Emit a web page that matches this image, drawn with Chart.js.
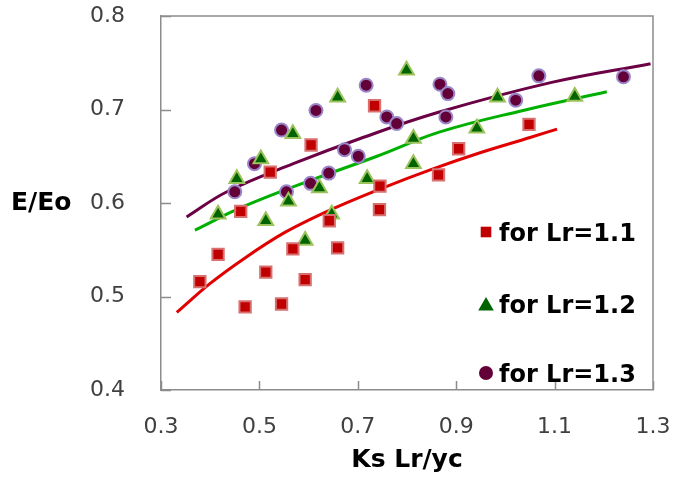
<!DOCTYPE html>
<html>
<head>
<meta charset="utf-8">
<script src="https://cdn.jsdelivr.net/npm/chart.js@4/dist/chart.umd.min.js"></script>
<style>
  html, body { margin: 0; padding: 0; background: #fff; }
  #wrap { width: 692px; height: 480px; }
</style>
</head>
<body>
<div id="wrap"><canvas id="chart" width="692" height="480"></canvas></div>
<script>
// measured points (Ks Lr/yc , E/Eo)
const lr11X = [0.379, 0.416, 0.471, 0.462, 0.513, 0.522, 0.545, 0.568, 0.593, 0.605, 0.642, 0.659, 0.734, 0.745, 0.744, 0.864, 0.905, 1.048];
const lr11Y = [0.516, 0.545, 0.489, 0.591, 0.526, 0.633, 0.492, 0.551, 0.518, 0.662, 0.581, 0.552, 0.704, 0.618, 0.593, 0.630, 0.658, 0.684];

const lr12X = [0.416, 0.454, 0.503, 0.513, 0.559, 0.568, 0.593, 0.622, 0.647, 0.659, 0.719, 0.799, 0.813, 0.813, 0.942, 0.984, 1.141];
const lr12Y = [0.588, 0.626, 0.647, 0.581, 0.602, 0.674, 0.560, 0.616, 0.588, 0.713, 0.626, 0.742, 0.669, 0.642, 0.680, 0.713, 0.714];

const lr13X = [0.450, 0.490, 0.545, 0.555, 0.604, 0.615, 0.641, 0.673, 0.701, 0.717, 0.759, 0.779, 0.867, 0.883, 0.879, 1.021, 1.068, 1.240];
const lr13Y = [0.612, 0.642, 0.678, 0.612, 0.621, 0.699, 0.632, 0.657, 0.650, 0.726, 0.692, 0.685, 0.727, 0.717, 0.692, 0.710, 0.736, 0.735];

// trend curves
const fit11X = [0.332, 0.40, 0.47, 0.55, 0.65, 0.75, 0.85, 0.95, 1.05, 1.105];
const fit11Y = [0.483, 0.514, 0.541, 0.568, 0.594, 0.616, 0.636, 0.654, 0.670, 0.679];
const fit12X = [0.369, 0.467, 0.603, 0.739, 0.867, 1.036, 1.206];
const fit12Y = [0.571, 0.596, 0.624, 0.650, 0.676, 0.699, 0.719];
const fit13X = [0.352, 0.434, 0.569, 0.705, 0.864, 1.094, 1.295];
const fit13Y = [0.585, 0.612, 0.642, 0.669, 0.697, 0.729, 0.749];

const xTicks = [0.3, 0.5, 0.7, 0.9, 1.1, 1.3];
const yTicks = [0.4, 0.5, 0.6, 0.7, 0.8];
const legendLabels = ['for Lr=1.1', 'for Lr=1.2', 'for Lr=1.3'];

const toPoints = (xs, ys) => xs.map((x, i) => ({ x: x, y: ys[i] }));

const markerStyles = [
  { pointStyle: 'rect', color: '#c00000', radius: 7.5 },
  { pointStyle: 'triangle', color: '#006400', radius: 9 },
  { pointStyle: 'circle', color: '#640038', radius: 7 }
];

// inner tick marks, top/right frame, y title and the legend
const chartExtras = {
  id: 'chartExtras',
  afterDraw(chart) {
    const { ctx, chartArea: a, scales: { x, y } } = chart;
    ctx.save();
    ctx.strokeStyle = '#8c8c8c';
    ctx.lineWidth = 1.5;
    ctx.beginPath();
    ctx.moveTo(a.left, a.top);
    ctx.lineTo(a.right, a.top);
    ctx.lineTo(a.right, a.bottom);
    xTicks.forEach(v => {
      const px = Math.round(x.getPixelForValue(v)) + 0.5;
      ctx.moveTo(px, a.bottom);
      ctx.lineTo(px, a.bottom - 9);
    });
    yTicks.forEach(v => {
      const py = Math.round(y.getPixelForValue(v)) + 0.5;
      ctx.moveTo(a.left, py);
      ctx.lineTo(a.left + 10, py);
    });
    ctx.stroke();

    // y axis title, horizontal
    ctx.fillStyle = '#000';
    ctx.font = "bold 25px 'DejaVu Sans'";
    ctx.textAlign = 'left';
    ctx.textBaseline = 'middle';
    ctx.fillText('E/Eo', 11, y.getPixelForValue(0.6));

    // legend inside the plot
    const rowsY = [232, 304, 373];
    ctx.font = "bold 24px 'DejaVu Sans'";
    ctx.textBaseline = 'alphabetic';
    legendLabels.forEach((label, i) => {
      const m = markerStyles[i];
      ctx.fillStyle = m.color;
      const dy = m.pointStyle === 'triangle' ? 2 : 0;
      Chart.helpers.drawPoint(ctx, { pointStyle: m.pointStyle, radius: m.radius, borderWidth: 0, rotation: 0 }, 486, rowsY[i] + dy);
      ctx.fillStyle = '#000';
      ctx.fillText(label, 499, rowsY[i] + 9);
    });
    ctx.restore();
  }
};

const ctx = document.getElementById('chart');

new Chart(ctx, {
  type: 'scatter',
  data: {
    datasets: [
      {
        label: legendLabels[0],
        data: toPoints(lr11X, lr11Y),
        pointStyle: 'rect',
        pointRadius: 8,
        backgroundColor: '#c00000',
        borderColor: '#d87070',
        borderWidth: 2,
        order: 1
      },
      {
        label: legendLabels[1],
        data: toPoints(lr12X, lr12Y),
        pointStyle: 'triangle',
        pointRadius: 8.5,
        backgroundColor: '#006400',
        borderColor: '#9cc25c',
        borderWidth: 2,
        order: 1
      },
      {
        label: legendLabels[2],
        data: toPoints(lr13X, lr13Y),
        pointStyle: 'circle',
        pointRadius: 6.5,
        backgroundColor: '#640038',
        borderColor: '#9a86c8',
        borderWidth: 2,
        order: 1
      },
      {
        label: 'fit 1.1',
        data: toPoints(fit11X, fit11Y),
        showLine: true,
        pointRadius: 0,
        borderColor: '#e00000',
        borderWidth: 3,
        cubicInterpolationMode: 'monotone',
        order: 2
      },
      {
        label: 'fit 1.2',
        data: toPoints(fit12X, fit12Y),
        showLine: true,
        pointRadius: 0,
        borderColor: '#00b000',
        borderWidth: 3,
        tension: 0.4,
        order: 2
      },
      {
        label: 'fit 1.3',
        data: toPoints(fit13X, fit13Y),
        showLine: true,
        pointRadius: 0,
        borderColor: '#6c0044',
        borderWidth: 3,
        tension: 0.4,
        order: 2
      }
    ]
  },
  options: {
    responsive: false,
    animation: false,
    layout: { padding: { top: 16, right: 39, bottom: 0, left: 0 } },
    plugins: {
      legend: { display: false },
      tooltip: { enabled: false }
    },
    scales: {
      x: {
        type: 'linear',
        min: 0.3,
        max: 1.3,
        grid: { display: false },
        border: { display: true, color: '#8c8c8c', width: 1.5 },
        afterBuildTicks: scale => { scale.ticks = xTicks.map(v => ({ value: v })); },
        afterFit: scale => {
          scale.height = 90;
          scale.paddingLeft = 0;
          scale.paddingRight = 0;
        },
        ticks: {
          padding: 16,
          color: '#404040',
          font: { family: "'DejaVu Sans'", size: 22 },
          callback: v => v.toFixed(1)
        },
        title: {
          display: true,
          text: 'Ks Lr/yc',
          color: '#000',
          font: { family: "'DejaVu Sans'", size: 25, weight: 'bold' },
          padding: { top: 0, bottom: 5 }
        }
      },
      y: {
        type: 'linear',
        min: 0.4,
        max: 0.8,
        grid: { display: false },
        border: { display: true, color: '#8c8c8c', width: 1.5 },
        afterBuildTicks: scale => { scale.ticks = yTicks.map(v => ({ value: v })); },
        afterFit: scale => {
          scale.width = 161;
          scale.paddingTop = 0;
          scale.paddingBottom = 0;
        },
        ticks: {
          padding: 28,
          color: '#404040',
          font: { family: "'DejaVu Sans'", size: 22 },
          callback: v => v.toFixed(1)
        }
      }
    }
  },
  plugins: [chartExtras]
});
</script>
</body>
</html>
